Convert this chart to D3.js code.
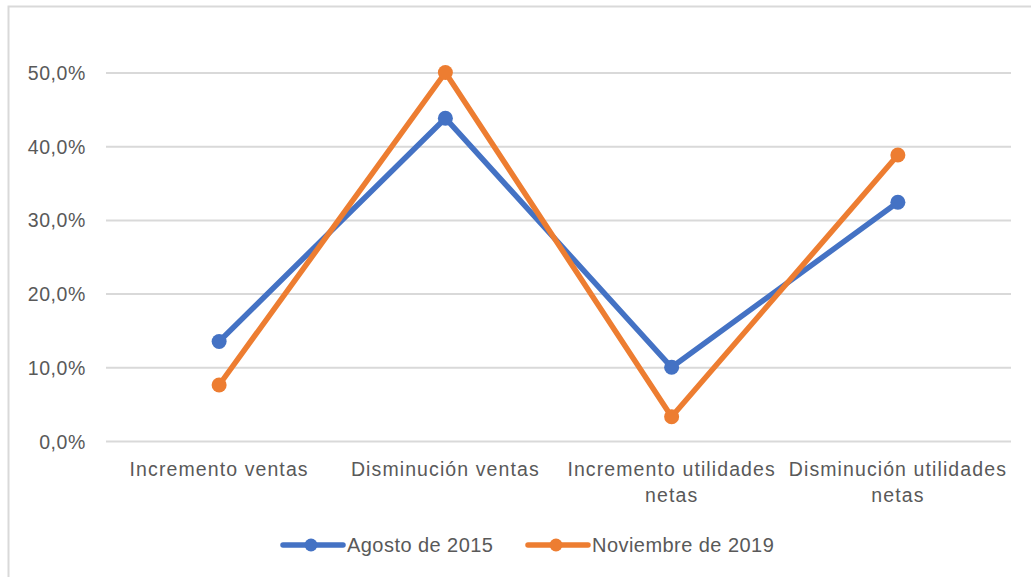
<!DOCTYPE html>
<html><head><meta charset="utf-8">
<script src="https://cdn.jsdelivr.net/npm/d3@7"></script>
<style>
html,body{margin:0;padding:0;background:#fff;}
svg{display:block;font-family:"Liberation Sans",Arial,sans-serif;}
</style></head>
<body>
<svg id="chart" width="1031" height="577"></svg>
<script>
const categories = ["Incremento ventas", "Disminución ventas", "Incremento utilidades netas", "Disminución utilidades netas"];
const seriesNames = ["Agosto de 2015", "Noviembre de 2019"];
const agosto2015 = [13.5, 43.8, 10.0, 32.4];
const noviembre2019 = [7.6, 50.0, 3.3, 38.8];
const yTicks = [0, 10, 20, 30, 40, 50];
const colors = ["#4472C4", "#ED7D31"];

(function() {
const series = [
  {name: seriesNames[0], values: agosto2015, color: colors[0]},
  {name: seriesNames[1], values: noviembre2019, color: colors[1]}
];

const svg = d3.select("#chart");
const W = 1031, H = 577;
const mLeft = 106, mRight = 1011, mTop = 72.5, mBottom = 441;

// frame
svg.append("rect").attr("x", 8.5).attr("y", 6.5).attr("width", W + 10).attr("height", H + 10)
  .attr("fill", "#fff").attr("stroke", "#d9d9d9").attr("stroke-width", 2);

const x = d3.scaleBand().domain(categories).range([mLeft, mRight]).padding(0);
const y = d3.scaleLinear().domain([0, 50]).range([mBottom, mTop]);

// grid
const yAxis = d3.axisLeft(y).tickValues(yTicks).tickSize(-(mRight - mLeft)).tickPadding(20)
  .tickFormat(d => d3.format(".1f")(d).replace(".", ",") + "%");
const gy = svg.append("g").attr("transform", `translate(${mLeft},0)`).call(yAxis);
gy.select(".domain").remove();
gy.selectAll(".tick line").attr("stroke", "#d9d9d9").attr("stroke-width", 2);
gy.selectAll(".tick text").attr("fill", "#595959").attr("font-size", 19.5)
  .attr("letter-spacing", 0.6).attr("dy", "0.36em");

// x axis labels
const xAxis = d3.axisBottom(x).tickSize(0).tickPadding(0);
const gx = svg.append("g").attr("transform", `translate(0,${mBottom})`).call(xAxis);
gx.select(".domain").remove();
gx.selectAll(".tick text").attr("fill", "#595959").attr("font-size", 19.5).attr("letter-spacing", 1.1)
  .attr("y", 35).attr("dy", 0)
  .each(function(d) {
    const t = d3.select(this);
    const words = d.split(" ");
    t.text(null);
    let line = [];
    let tspan = t.append("tspan").attr("x", 0).attr("y", 35);
    let lineNo = 0;
    for (const w of words) {
      line.push(w);
      tspan.text(line.join(" "));
      if (tspan.node().getComputedTextLength() > x.bandwidth() - 4 && line.length > 1) {
        line.pop();
        tspan.text(line.join(" "));
        line = [w];
        lineNo++;
        tspan = t.append("tspan").attr("x", 0).attr("y", 35 + lineNo * 26).text(w);
      }
    }
  });

const cx = d => x(d) + x.bandwidth() / 2;
const line = d3.line().x(d => cx(d.c)).y(d => y(d.v));

series.forEach(s => {
  const pts = categories.map((c, i) => ({c, v: s.values[i]}));
  svg.append("path").datum(pts).attr("d", line).attr("fill", "none")
    .attr("stroke", s.color).attr("stroke-width", 5.5).attr("stroke-linejoin", "round").attr("stroke-linecap", "round");
  svg.selectAll(null).data(pts).enter().append("circle")
    .attr("cx", d => cx(d.c)).attr("cy", d => y(d.v)).attr("r", 7.5).attr("fill", s.color);
});

// legend
const legendY = 545;
const legendItems = [{x: 283, s: series[0]}, {x: 528, s: series[1]}];
legendItems.forEach(it => {
  const g = svg.append("g").attr("transform", `translate(${it.x},${legendY})`);
  g.append("line").attr("x1", 0).attr("x2", 60).attr("y1", 0).attr("y2", 0)
    .attr("stroke", it.s.color).attr("stroke-width", 5.5).attr("stroke-linecap", "round");
  g.append("circle").attr("cx", 28).attr("cy", 0).attr("r", 6.5).attr("fill", it.s.color);
  g.append("text").attr("x", 64).attr("y", 0).attr("dy", "0.36em").attr("fill", "#595959")
    .attr("font-size", 20).attr("letter-spacing", 0.45).text(it.s.name);
});
})();
</script>
</body></html>
